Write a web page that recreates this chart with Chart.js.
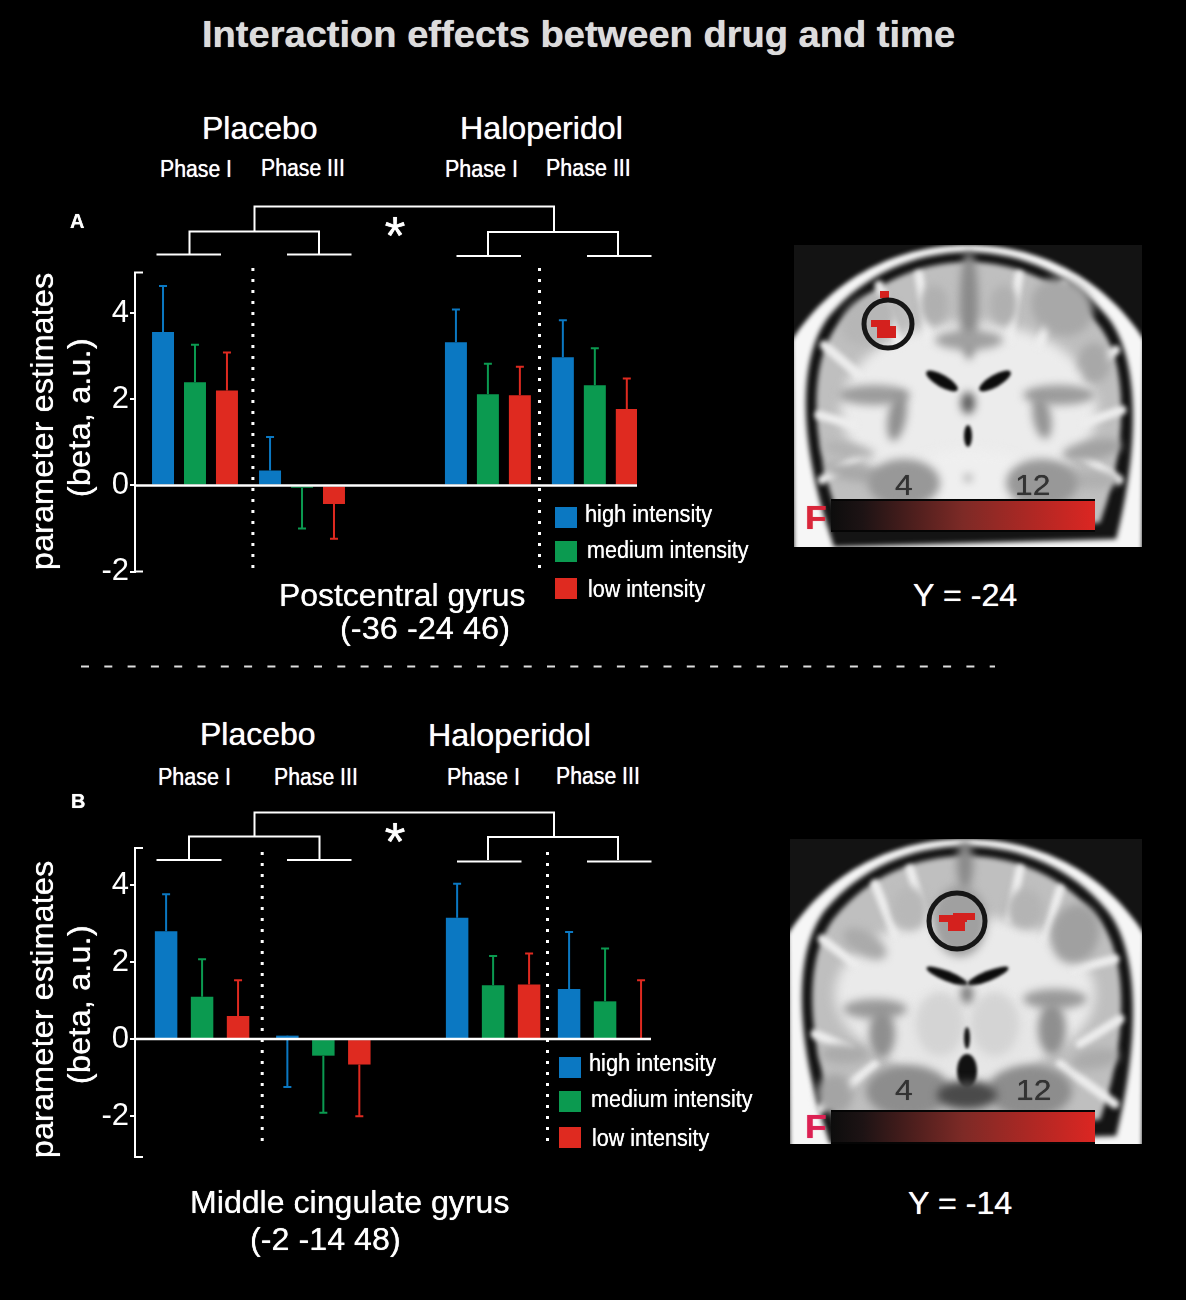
<!DOCTYPE html>
<html>
<head>
<meta charset="utf-8">
<title>Interaction effects between drug and time</title>
<script src="https://cdn.jsdelivr.net/npm/chart.js@4"></script>
<style>
  html, body { margin: 0; background: #000; }
  #page { position: relative; width: 1186px; height: 1300px; background: #000; overflow: hidden; font-family: "Liberation Sans", Arial, sans-serif; color: #fff; }
  #page canvas, #page svg { position: absolute; }
  .label { position: absolute; white-space: nowrap; line-height: 1; text-shadow: 0 0 0.7px currentColor; }
  .swatch { position: absolute; width: 22px; height: 21px; }
</style>
</head>
<body>
<div id="page">
  <svg width="1186" height="1300" style="left:0;top:0" fill="none" stroke="#fff" stroke-width="2">
    <!-- significance brackets, panel A -->
    <path d="M254.5 231V206.5H554V231M189.5 254V231.5H319V254M488 255V232H618V255M156.5 254.5H221M287 254.5H351.5M456.5 256H521M587 256H651.5"/>
    <!-- significance brackets, panel B -->
    <path d="M254.5 836V812.5H554V836M189 859V836.5H319.5V859M488 860V837H618V860M156.5 860H221.5M287 860H351.5M457 861.5H521.5M587 861.5H651.5"/>
    <g stroke-width="3" stroke-dasharray="3 8">
      <path d="M252.9 268V570M539.5 268V570"/>
      <path d="M262.2 852V1148M547.5 852V1148"/>
    </g>
    <path d="M81 666.5H995" stroke="#ddd" stroke-dasharray="8 15.3"/>
  </svg>
  <canvas id="brainA" width="348" height="302" style="left:794px;top:245px"></canvas>
  <canvas id="brainB" width="352" height="305" style="left:790px;top:839px"></canvas>
  <canvas id="chartA" width="700" height="420" style="left:0;top:190px"></canvas>
  <canvas id="chartB" width="700" height="400" style="left:0;top:790px"></canvas>
</div>
<script>
// panel A, Postcentral gyrus: Placebo I, Placebo III, Haloperidol I, Haloperidol III
const highA = [3.57, 0.35, 3.33, 2.98];
const mediumA = [2.40, -0.05, 2.12, 2.33];
const lowA = [2.21, -0.43, 2.10, 1.78];
const highErrA = [4.64, 1.13, 4.09, 3.84];
const mediumErrA = [3.27, -1.00, 2.83, 3.19];
const lowErrA = [3.09, -1.24, 2.76, 2.49];

// panel B, Middle cingulate gyrus
const highB = [2.80, 0.09, 3.15, 1.30];
const mediumB = [1.10, -0.43, 1.40, 0.98];
const lowB = [0.60, -0.66, 1.42, 0.03];
const highErrB = [3.76, -1.24, 4.03, 2.78];
const mediumErrB = [2.07, -1.91, 2.16, 2.35];
const lowErrB = [1.53, -2.00, 2.22, 1.53];

const seriesNames = ["high intensity", "medium intensity", "low intensity"];
const seriesColors = ["#0b78c2", "#0b9a50", "#df2a20"];
const tickStep = 2;

// the four phase groups, in percent along each x axis
const groupsA = [11.95, 33.27, 70.3, 91.6];
const groupsB = [13, 36.5, 69.4, 91.1];

// error bars and the bracket axis
const errorBars = {
  id: "errorBars",
  afterDatasetsDraw(chart) {
    const { ctx, scales: { y } } = chart;
    chart.data.datasets.forEach((ds, i) => {
      const bars = chart.getDatasetMeta(i).data;
      ctx.strokeStyle = ds.backgroundColor;
      ctx.lineWidth = 2;
      ds.errorEnds.forEach((end, k) => {
        const x = bars[k].x, y0 = y.getPixelForValue(ds.data[k].y), y1 = y.getPixelForValue(end);
        ctx.beginPath();
        ctx.moveTo(x, y0); ctx.lineTo(x, y1);
        ctx.moveTo(x - 4, y1); ctx.lineTo(x + 4, y1);
        ctx.stroke();
      });
    });
    const { left, right } = chart.chartArea;
    ctx.strokeStyle = "#fff";
    ctx.lineWidth = 2.5;
    ctx.beginPath();
    ctx.moveTo(left, y.getPixelForValue(0)); ctx.lineTo(right, y.getPixelForValue(0));
    ctx.stroke();
    ctx.lineWidth = 2;
    ctx.beginPath();
    [y.max, y.min].forEach(v => {
      const py = y.getPixelForValue(v);
      ctx.moveTo(left - 1, py); ctx.lineTo(left + 8, py);
    });
    ctx.stroke();
  }
};

function makeChart(id, groups, values, errs, yMin, yMax, padding, catPct, barPct) {
  new Chart(document.getElementById(id), {
    type: "bar",
    data: {
      datasets: seriesNames.map((name, i) => ({
        label: name,
        data: values[i].map((v, k) => ({ x: groups[k], y: v })),
        errorEnds: errs[i],
        backgroundColor: seriesColors[i],
        categoryPercentage: catPct,
        barPercentage: barPct
      }))
    },
    options: {
      responsive: false,
      animation: false,
      layout: { padding },
      plugins: { legend: { display: false }, tooltip: { enabled: false } },
      scales: {
        x: { type: "linear", display: false, offset: false, min: 0, max: 100, ticks: { stepSize: 1000 } },
        y: {
          min: yMin,
          max: yMax,
          afterFit: s => { s.width = 135; },
          border: { color: "#fff", width: 2 },
          grid: { drawOnChartArea: false, color: "#fff", lineWidth: 2, tickLength: 5 },
          ticks: {
            stepSize: tickStep,
            includeBounds: false,
            padding: 1,
            color: "#fff",
            font: { family: "'Liberation Sans'", size: 31 }
          }
        }
      }
    },
    plugins: [errorBars]
  });
}

makeChart("chartA", groupsA, [highA, mediumA, lowA], [highErrA, mediumErrA, lowErrA], -2, 4.95,
  { top: 82.6, bottom: 38.5, right: 63, left: 0 }, 0.897, 0.6875);
makeChart("chartB", groupsB, [highB, mediumB, lowB], [highErrB, mediumErrB, lowErrB], -3.06, 4.96,
  { top: 58, bottom: 33, right: 49, left: 0 }, 0.964, 0.625);

// text: x/y is the start of the baseline, width is the target width
const page = document.getElementById("page");
function label(text, x, y, width, size, o = {}) {
  const el = document.createElement("div");
  el.className = "label";
  el.textContent = text;
  el.style.fontSize = size + "px";
  el.style.fontWeight = o.bold ? "bold" : "normal";
  el.style.color = o.color || "#fff";
  el.style.left = x + "px";
  el.style.top = (y - 0.8465 * size) + "px";
  el.style.transformOrigin = "0 " + (0.8465 * size) + "px";
  page.appendChild(el);
  const k = width ? width / el.offsetWidth : 1;
  el.style.transform = (o.rotate ? "rotate(-90deg) " : "") + "scaleX(" + k + ")";
}

label("Interaction effects between drug and time", 202, 47, 753, 36, { bold: true, color: "#dcdcdc" });

function panelText(p) {
  label("Placebo", p.placebo[0], p.placebo[1], 116, 32);
  label("Haloperidol", p.halo[0], p.halo[1], 163, 32);
  p.phases.forEach(([t, x, y, w]) => label(t, x, y, w, 23));
  label(p.letter[0], p.letter[1], p.letter[2], 14, 20, { bold: true });
  label("*", 384.5, p.star, null, 54);
  label("parameter estimates", 53, p.yTitle[0], 298, 31, { rotate: true });
  label("(beta, a.u.)", 90, p.yTitle[1], 159, 31, { rotate: true });
  p.captions.forEach(([t, x, y, w]) => label(t, x, y, w, 31));
  seriesNames.forEach((name, i) => {
    const s = document.createElement("div");
    s.className = "swatch";
    s.style.left = p.swatchX + "px";
    s.style.top = p.swatchY[i] + "px";
    s.style.background = seriesColors[i];
    page.appendChild(s);
    label(name, p.legendX[i], p.legendY[i], p.legendW[i], 23);
  });
  label("4", p.numbers[0], p.numbers[2], 18, 30, { color: "#333" });
  label("12", p.numbers[1], p.numbers[2], 35, 30, { color: "#333" });
  label("F", 805, p.fY, 22, 34, { bold: true, color: p.fColor });
}

panelText({
  placebo: [202, 139], halo: [460, 139], letter: ["A", 70, 228], star: 254,
  phases: [["Phase I", 160, 177, 72], ["Phase III", 261, 176, 84], ["Phase I", 445, 177, 73], ["Phase III", 546, 176, 85]],
  yTitle: [570, 497],
  captions: [["Postcentral gyrus", 279, 606, 247], ["(-36 -24 46)", 340, 639, 170], ["Y = -24", 913, 606, 104]],
  swatchX: 555, swatchY: [507, 541, 578],
  legendX: [585, 587, 588], legendY: [522, 558, 597], legendW: [127, 162, 117],
  numbers: [895, 1015, 495], fY: 529, fColor: "#d9263a"
});
panelText({
  placebo: [200, 745], halo: [428, 746], letter: ["B", 71, 808], star: 860,
  phases: [["Phase I", 158, 785, 73], ["Phase III", 274, 785, 84], ["Phase I", 447, 785, 73], ["Phase III", 556, 784, 84]],
  yTitle: [1158, 1084],
  captions: [["Middle cingulate gyrus", 190, 1213, 319], ["(-2 -14 48)", 250, 1250, 151], ["Y = -14", 908, 1214, 104]],
  swatchX: 559, swatchY: [1057, 1091, 1127],
  legendX: [589, 591, 592], legendY: [1071, 1107, 1146], legendW: [127, 162, 117],
  numbers: [895, 1016, 1100], fY: 1138, fColor: "#dc2153"
});

// the anatomical slices: rough shading only, [cx, cy, rx, ry, degrees, colour]
const whiteA = [[175, 165, 128, 88, 0, "#ececec"], [175, 235, 70, 30, 0, "#efefef"]];
const branchesA = [
  [[65, 130], [30, 100]], [[60, 180], [25, 170]], [[75, 205], [28, 235]], [[105, 100], [85, 40]],
  [[135, 95], [125, 30]], [[215, 95], [225, 30]], [[245, 100], [270, 40]], [[285, 130], [322, 105]],
  [[290, 178], [328, 165]], [[280, 205], [325, 235]]
];
const shadesA = [
  [75, 75, 30, 22, -35, "#b6b6b6"], [268, 62, 32, 28, 30, "#a8a8a8"], [300, 118, 16, 20, 0, "#a8a8a8"],
  [175, 60, 9, 55, 0, "#8a8a8a"], [175, 95, 34, 10, 0, "#a0a0a0"], [140, 60, 14, 20, 0, "#b0b0b0"], [210, 60, 14, 20, 0, "#b0b0b0"],
  [80, 150, 36, 10, 0, "#9c9c9c"], [103, 172, 9, 24, 10, "#8f8f8f"], [265, 150, 36, 10, 0, "#9c9c9c"],
  [248, 172, 9, 22, -10, "#949494"], [55, 205, 26, 7, 10, "#b2b2b2"], [60, 228, 30, 8, 10, "#a8a8a8"],
  [298, 205, 30, 10, -10, "#a2a2a2"], [300, 235, 24, 9, 0, "#b0b0b0"],
  [110, 238, 36, 24, 0, "#989898"], [248, 238, 36, 24, 0, "#989898"],
  [148, 136, 18, 6, 30, "#0c0c0c"], [201, 136, 18, 6, -30, "#0c0c0c"],
  [174, 158, 7, 11, 0, "#5a5a5a"], [174, 191, 4, 11, 0, "#0c0c0c"], [174, 233, 3, 3, 0, "#777"]
];
const whiteB = [[175, 155, 130, 78, 0, "#eaeaea"], [175, 200, 80, 45, 0, "#e6e6e6"]];
const branchesB = [
  [[65, 125], [32, 100]], [[60, 210], [25, 195]], [[85, 225], [30, 270]], [[105, 95], [85, 45]],
  [[135, 80], [120, 30]], [[220, 80], [230, 30]], [[255, 100], [270, 50]], [[285, 130], [325, 120]],
  [[290, 205], [330, 180]], [[270, 225], [325, 265]]
];
const shadesB = [
  [75, 105, 24, 12, 30, "#aaa"], [285, 95, 24, 30, 15, "#a0a0a0"], [120, 70, 18, 22, 0, "#b8b8b8"],
  [170, 82, 27, 36, 0, "#a0a0a0"], [175, 25, 8, 25, 0, "#8a8a8a"], [235, 70, 18, 20, 0, "#b4b4b4"],
  [85, 170, 32, 10, 0, "#9a9a9a"], [92, 195, 13, 24, 0, "#8f8f8f"], [265, 160, 32, 10, 0, "#9a9a9a"],
  [262, 190, 14, 26, 0, "#8f8f8f"], [55, 215, 24, 10, 0, "#ababab"], [305, 220, 24, 10, -10, "#ababab"],
  [45, 255, 18, 20, 0, "#a4a4a4"], [118, 252, 42, 26, 0, "#8d8d8d"], [240, 252, 42, 26, 0, "#8d8d8d"],
  [150, 185, 24, 32, 0, "#d4d4d4"], [205, 185, 24, 32, 0, "#d4d4d4"],
  [157, 137, 22, 5, 22, "#0c0c0c"], [198, 137, 22, 5, -22, "#0c0c0c"],
  [177, 155, 6, 10, 0, "#777"], [177, 199, 3, 11, 0, "#111"], [177, 232, 10, 17, 0, "#111"],
  [177, 256, 30, 14, 0, "#4a4a4a"]
];

function drawBrain(id, whites, branches, shades, circle, clusters, bar) {
  const cv = document.getElementById(id), ctx = cv.getContext("2d");
  const w = cv.width, h = cv.height;
  ctx.fillStyle = "#131313";
  ctx.fillRect(0, 0, w, h);
  const blob = ([cx, cy, rx, ry, deg, col]) => {
    ctx.fillStyle = col;
    ctx.beginPath();
    ctx.ellipse(cx, cy, rx, ry, deg * Math.PI / 180, 0, Math.PI * 2);
    ctx.fill();
  };
  ctx.save();
  ctx.beginPath(); ctx.rect(0, 0, w, h); ctx.clip();
  ctx.filter = "blur(2px)";
  ctx.fillStyle = "#f6f6f6";
  ctx.beginPath();
  ctx.moveTo(0, h + 8);
  ctx.lineTo(-2, 95);
  ctx.bezierCurveTo(33, 40, 95, 0, w / 2, 0);
  ctx.bezierCurveTo(w - 95, 0, w - 33, 40, w + 2, 95);
  ctx.lineTo(w, h + 8);
  ctx.closePath();
  ctx.fill();
  ctx.filter = "blur(2.5px)";
  ctx.fillStyle = "#141414";
  ctx.beginPath();
  ctx.moveTo(32, h - 25);
  ctx.bezierCurveTo(5, 190, 4, 110, 36, 70);
  ctx.bezierCurveTo(70, 30, 120, 7, w / 2, 7);
  ctx.bezierCurveTo(w - 120, 7, w - 70, 30, w - 36, 70);
  ctx.bezierCurveTo(w - 2, 110, w - 2, 200, w - 26, h - 8);
  ctx.lineTo(40, h);
  ctx.closePath();
  ctx.fill();
  ctx.fillStyle = "#bfbfbf";
  ctx.beginPath();
  ctx.moveTo(44, h - 32);
  ctx.bezierCurveTo(15, 190, 15, 115, 45, 78);
  ctx.bezierCurveTo(78, 38, 125, 17, w / 2, 17);
  ctx.bezierCurveTo(w - 125, 17, w - 78, 38, w - 45, 78);
  ctx.bezierCurveTo(w - 13, 115, w - 13, 200, w - 42, h - 24);
  ctx.lineTo(44, h - 20);
  ctx.closePath();
  ctx.fill();
  ctx.filter = "blur(6px)";
  whites.forEach(blob);
  ctx.filter = "blur(2.5px)";
  ctx.strokeStyle = "#ededed";
  ctx.lineWidth = 9;
  ctx.lineCap = "round";
  branches.forEach(([a, b]) => {
    ctx.beginPath();
    ctx.moveTo(a[0], a[1]);
    ctx.lineTo(b[0], b[1]);
    ctx.stroke();
  });
  shades.forEach(s => {
    ctx.filter = s[5] === "#0c0c0c" || s[5] === "#111" ? "blur(1.5px)" : "blur(4px)";
    blob(s);
  });
  ctx.restore();

  ctx.fillStyle = "#d4211e";
  clusters.forEach(r => ctx.fillRect(r[0], r[1], r[2], r[3]));
  ctx.strokeStyle = "#161616";
  ctx.lineWidth = 5;
  ctx.beginPath();
  ctx.arc(circle[0], circle[1], circle[2], 0, Math.PI * 2);
  ctx.stroke();

  const g = ctx.createLinearGradient(bar[0], 0, bar[0] + bar[2], 0);
  g.addColorStop(0, "#0d0d0d");
  g.addColorStop(0.12, "#1d1314");
  g.addColorStop(0.5, "#7d2a26");
  g.addColorStop(1, "#dc2622");
  ctx.fillStyle = "#050505";
  ctx.fillRect(bar[0], bar[1], bar[2], bar[3]);
  ctx.fillStyle = g;
  ctx.fillRect(bar[0], bar[1] + 2, bar[2], bar[3] - 4);
}

drawBrain("brainA", whiteA, branchesA, shadesA, [94, 79, 24],
  [[86, 46, 9, 7], [77, 75, 19, 7], [83, 81, 19, 12]], [37, 254, 264, 33]);
drawBrain("brainB", whiteB, branchesB, shadesB, [167, 82, 28],
  [[149, 76, 28, 7], [163, 74, 22, 7], [158, 83, 17, 9]], [41, 271, 264, 34]);
</script>
</body>
</html>
